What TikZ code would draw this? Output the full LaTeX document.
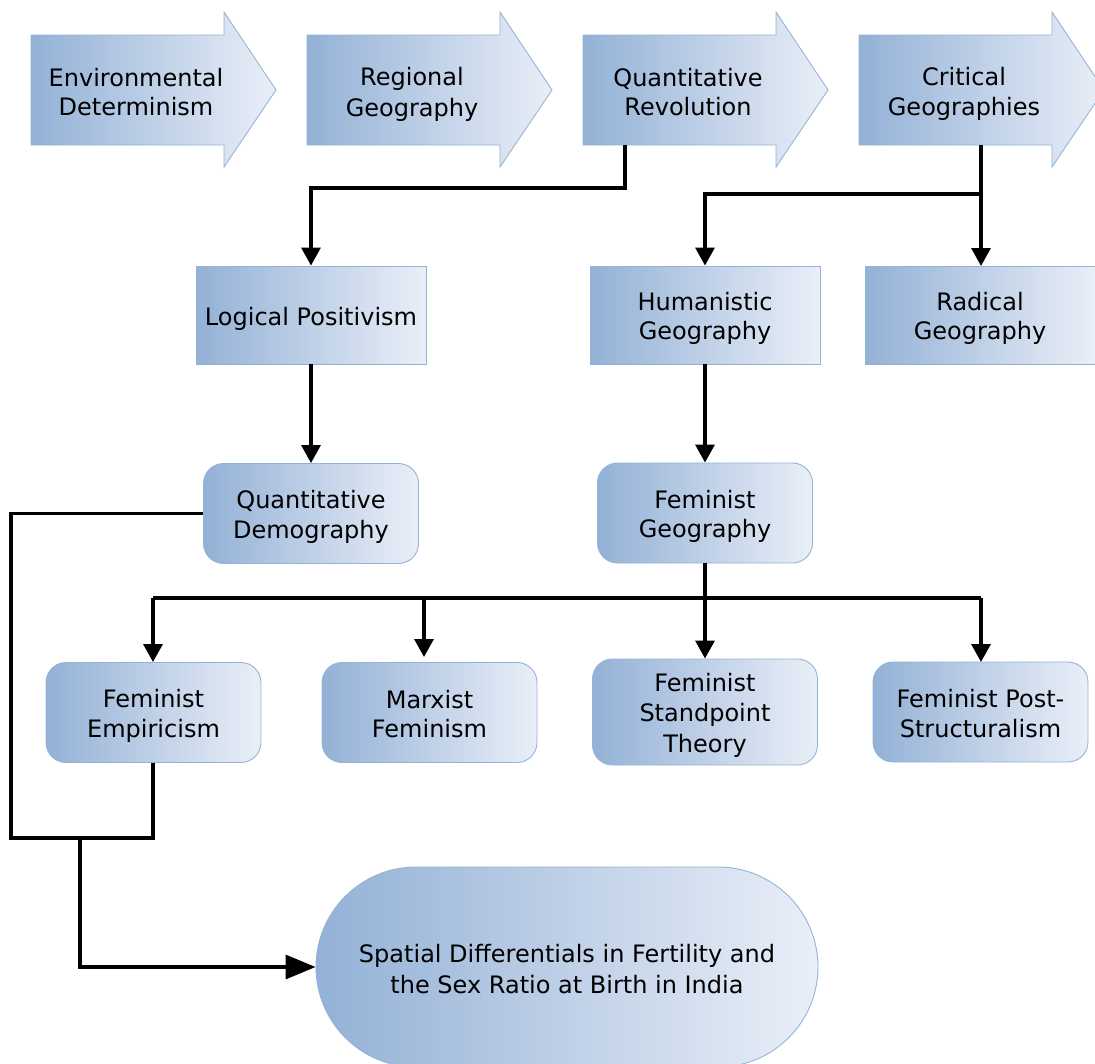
\documentclass[tikz,border=0pt]{standalone}
\usepackage{fontspec}
\setmainfont{DejaVu Sans}
\usetikzlibrary{arrows.meta}
\definecolor{cL}{RGB}{147,177,214}
\definecolor{cR}{RGB}{234,239,248}
\definecolor{cB}{RGB}{149,179,215}
\newcommand\lnst{\vrule height 25pt depth 4pt width 0pt}
\tikzset{
  grad/.style={left color=cL, right color=cR, draw=cB, line width=0.9pt},
  lbl/.style={align=center, font=\fontsize{24}{29.5}\selectfont, text=black, inner sep=0pt},
  sqbox/.style={grad, lbl, rectangle, minimum width=230pt, minimum height=98pt},
  rbox/.style={grad, lbl, rectangle, rounded corners=20pt, minimum width=215pt, minimum height=100pt},
  conn/.style={line width=3.3pt, line join=miter, line cap=butt},
  arr/.style={conn, -{Triangle[width=19pt,length=18pt]}},
  bigarr/.style={conn, -{Triangle[width=24pt,length=30pt]}},
}
\begin{document}
\begin{tikzpicture}[x=1pt,y=-1pt]
\useasboundingbox (0,0) rectangle (1095,1063);
% top block arrows
\foreach \dx/\txt/\nm in {0/{\lnst Environmental\\\lnst Determinism}/ed, 276/{\lnst Regional\\\lnst Geography}/rgg, 552/{\lnst Quantitative\\\lnst Revolution}/qr, 828/{\lnst Critical\\\lnst Geographies}/cg}{
  \path[grad] (31+\dx,35) -- (224+\dx,35) -- (224+\dx,12) -- (276+\dx,90) -- (224+\dx,167) -- (224+\dx,145) -- (31+\dx,145) -- cycle;
  \node[lbl] (\nm) at (136+\dx,90.5) {\txt};
}
\coordinate (qrout) at (625,145);
\coordinate (cgout) at (981,145);
% second row
\node[sqbox] (lp) at (311,315) {\lnst Logical Positivism};
\node[sqbox] (hg) at (705,315) {\lnst Humanistic\\\lnst Geography};
\node[sqbox] (rg) at (980,315) {\lnst Radical\\\lnst Geography};
% third row
\node[rbox] (qd) at (311,513.5) {\lnst Quantitative\\\lnst Demography};
\node[rbox] (fg) at (705,513) {\lnst Feminist\\\lnst Geography};
% fourth row
\node[rbox] (fe) at (153.5,712.5) {\lnst Feminist\\\lnst Empiricism};
\node[rbox] (mf) at (429.5,712.5) {\lnst Marxist\\\lnst Feminism};
\node[rbox, minimum width=225pt, minimum height=106pt] (fst) at (705,712) {\lnst Feminist\\\lnst Standpoint\\\lnst Theory};
\node[rbox] (fps) at (980.5,712) {\lnst Feminist Post-\\\lnst Structuralism};
% final
\node[grad, lbl, rectangle, rounded corners=100pt, minimum width=502pt, minimum height=200pt] (sd) at (567,967) {\lnst Spatial Differentials in Fertility and\\\lnst the Sex Ratio at Birth in India};
% connectors
\draw[arr] (qrout) -- (625,188) -| (lp.north);
\draw[conn] (cgout) -- (981,194);
\draw[arr] (981,194) -| (hg.north);
\draw[arr] (cgout) -- (981,266);
\draw[arr] (lp.south) -- (qd.north);
\draw[arr] (hg.south) -- (fg.north);
\coordinate (fgj) at (705,598);
\draw[conn] (fg.south) -- (fgj);
\draw[conn] (153,598) -- (981,598);
\draw[arr] (fgj) -- (fst.north);
\draw[arr] (153,598) -- (fe.north -| 153,0);
\draw[arr] (424,598) -- (424,657);
\draw[arr] (981,598) -- (981,662);
\draw[conn] (qd.west) -| (11,838) -| (fe.south -| 153,0);
\coordinate (j) at (80,838);
\draw[bigarr] (j) |- (sd.west);
\end{tikzpicture}
\end{document}
